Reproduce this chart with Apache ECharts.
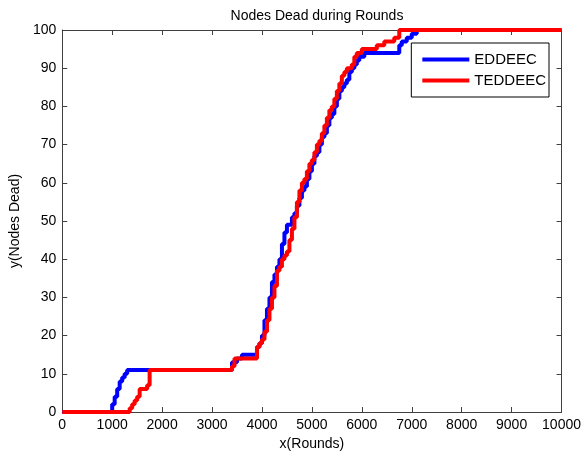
<!DOCTYPE html>
<html>
<head>
<meta charset="utf-8">
<script src="https://cdn.jsdelivr.net/npm/echarts@6/dist/echarts.min.js"></script>
<style>
  html, body { margin: 0; padding: 0; background: #fff; }
  #chart { width: 584px; height: 456px; }
</style>
</head>
<body>
<div id="chart"></div>
<script>
const seriesNames = ['EDDEEC', 'TEDDEEC']

const eddeecX = [0, 950, 1000, 1050, 1100, 1150, 1200, 1250, 1300, 3300, 3400, 3500, 3600, 3800, 3900, 3950, 4000, 4050, 4100, 4150, 4200, 4250, 4300, 4350, 4400, 4450, 4500, 4600, 4650, 4700, 4750, 4800, 4850, 4900, 4950, 5000, 5050, 5100, 5150, 5200, 5250, 5300, 5350, 5400, 5450, 5500, 5550, 5600, 5650, 5700, 5750, 5800, 5850, 5900, 5950, 6050, 6700, 6750, 6800, 6900, 7000, 7100, 10000]
const eddeecY = [0, 0, 2, 4, 6, 8, 9, 10, 11, 11, 13, 14, 15, 15, 17, 18, 20, 24, 27, 30, 34, 36, 38, 40, 44, 47, 49, 51, 52, 54, 56, 58, 59, 61, 63, 65, 67, 68, 70, 72, 73, 75, 77, 78, 80, 82, 84, 85, 86, 87, 89, 90, 91, 92, 93, 94, 94, 96, 97, 98, 99, 100, 100]

const teddeecX = [0, 1300, 1350, 1400, 1450, 1500, 1550, 1700, 1750, 3350, 3400, 3450, 3850, 3900, 3950, 4000, 4050, 4100, 4150, 4200, 4250, 4300, 4350, 4400, 4450, 4500, 4550, 4600, 4650, 4700, 4750, 4800, 4850, 4900, 4950, 5000, 5050, 5100, 5150, 5200, 5250, 5300, 5350, 5400, 5450, 5500, 5550, 5600, 5650, 5700, 5800, 5850, 5900, 6000, 6300, 6450, 6650, 6750, 10000]
const teddeecY = [0, 0, 1, 2, 3, 4, 6, 7, 11, 11, 12, 14, 14, 17, 18, 19, 21, 24, 27, 30, 33, 37, 38, 40, 41, 42, 45, 48, 51, 55, 58, 60, 61, 63, 65, 66, 68, 70, 71, 73, 75, 77, 79, 80, 82, 84, 86, 88, 89, 90, 91, 93, 94, 95, 96, 97, 98, 100, 100]

const xTicks = [0, 1000, 2000, 3000, 4000, 5000, 6000, 7000, 8000, 9000, 10000]
const yTicks = [0, 10, 20, 30, 40, 50, 60, 70, 80, 90, 100]

const zip = (xs, ys) => xs.map((x, i) => [x, ys[i]])

const font = 'Liberation Sans, Arial, sans-serif'
const axisColor = '#404040'

const chart = echarts.init(document.getElementById('chart'))

// matlab style box: ticks point into the plot on all four sides
function xAxis(pos, extra) {
  return Object.assign({
    type: 'value', position: pos,
    min: xTicks[0], max: xTicks[xTicks.length - 1], interval: 1000,
    axisLine: { show: true, onZero: false, lineStyle: { color: axisColor, width: 1 } },
    axisTick: { show: true, inside: true, length: 5, lineStyle: { color: axisColor } },
    splitLine: { show: false }
  }, extra)
}
function yAxis(pos, extra) {
  return Object.assign({
    type: 'value', position: pos,
    min: yTicks[0], max: yTicks[yTicks.length - 1], interval: 10,
    axisLine: { show: true, onZero: false, lineStyle: { color: axisColor, width: 1 } },
    axisTick: { show: true, inside: true, length: 5, lineStyle: { color: axisColor } },
    splitLine: { show: false }
  }, extra)
}

chart.setOption({
  animation: false,
  backgroundColor: '#fff',
  title: {
    text: 'Nodes Dead during Rounds',
    left: 312, top: 4, textAlign: 'center',
    textStyle: { fontFamily: font, fontSize: 14, fontWeight: 'normal', color: '#000' }
  },
  grid: { left: 62, right: 21, top: 30, bottom: 44 },
  legend: {
    data: seriesNames,
    orient: 'vertical',
    right: 35, top: 43,
    itemWidth: 47, itemHeight: 4, itemGap: 6,
    padding: [9, 3, 9, 11],
    borderColor: '#000', borderWidth: 1, backgroundColor: '#fff',
    icon: 'rect',
    textStyle: { fontFamily: font, fontSize: 15, color: '#000' }
  },
  xAxis: [
    xAxis('bottom', {
      name: 'x(Rounds)', nameLocation: 'middle', nameGap: 24,
      nameTextStyle: { fontFamily: font, fontSize: 14, color: '#000' },
      axisLabel: { fontFamily: font, fontSize: 14, color: '#000', margin: 6, formatter: v => String(v) }
    }),
    xAxis('top', { axisLabel: { show: false } })
  ],
  yAxis: [
    yAxis('left', {
      name: 'y(Nodes Dead)', nameLocation: 'middle', nameGap: 37,
      nameTextStyle: { fontFamily: font, fontSize: 14, color: '#000' },
      axisLabel: { fontFamily: font, fontSize: 14, color: '#000', margin: 6 }
    }),
    yAxis('right', { axisLabel: { show: false } })
  ],
  series: [
    {
      name: seriesNames[0], type: 'line', step: 'end', showSymbol: false,
      data: zip(eddeecX, eddeecY),
      lineStyle: { color: '#0000ff', width: 4 }, itemStyle: { color: '#0000ff' }
    },
    {
      name: seriesNames[1], type: 'line', step: 'end', showSymbol: false,
      data: zip(teddeecX, teddeecY),
      lineStyle: { color: '#ff0000', width: 4 }, itemStyle: { color: '#ff0000' }
    }
  ]
})
</script>
</body>
</html>
